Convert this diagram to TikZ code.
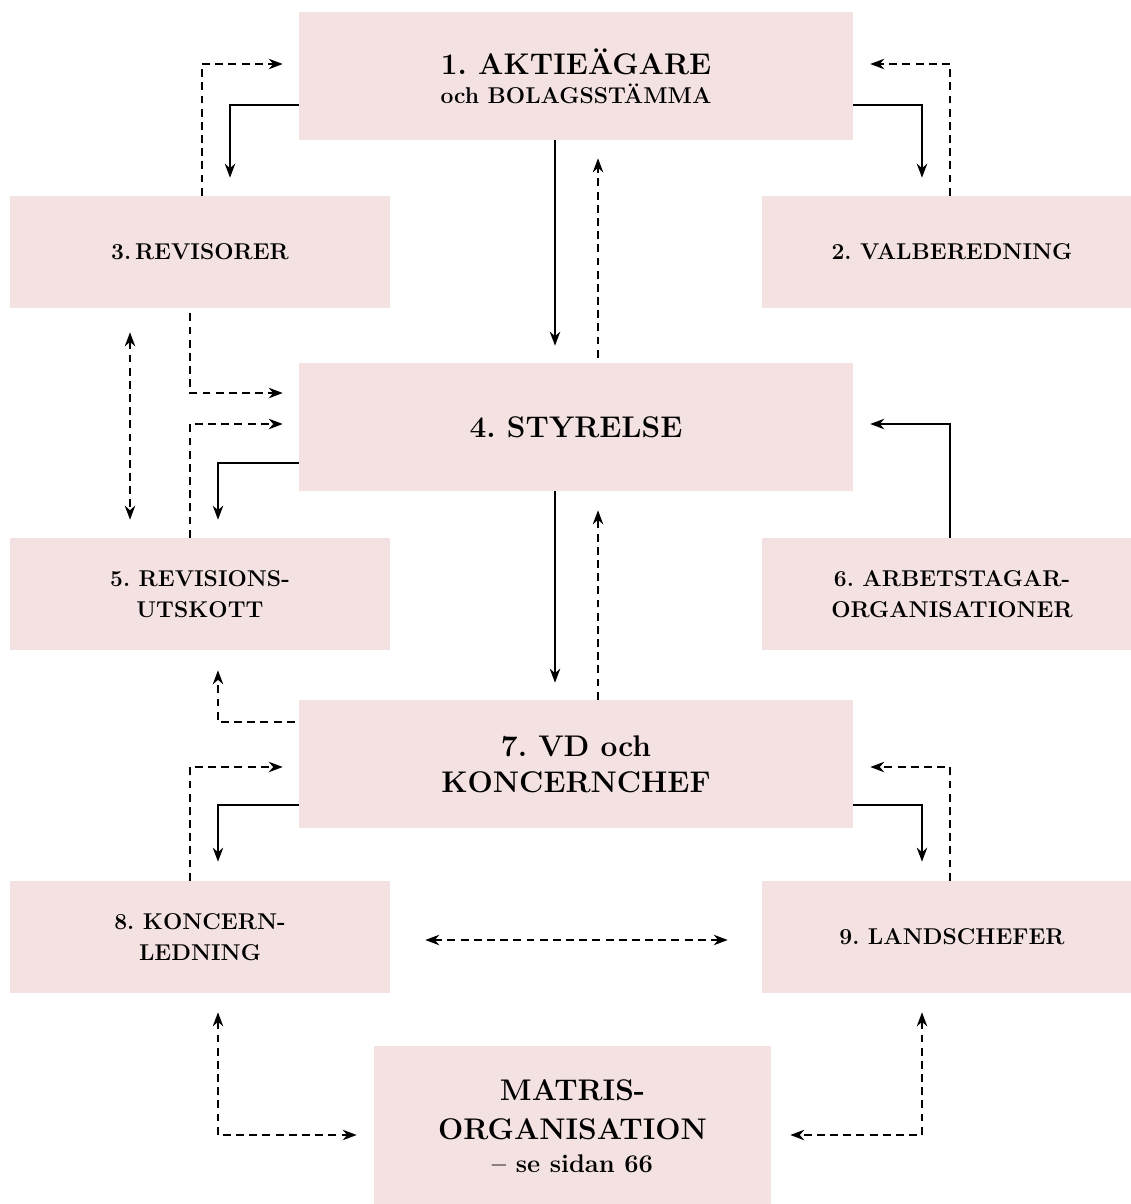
\documentclass[tikz,border=0pt]{standalone}
\usetikzlibrary{arrows.meta}

\definecolor{boxpink}{RGB}{244,225,225}

\tikzset{
  OrgBox/.style={fill=boxpink, inner sep=0pt, align=center},
  BigBox/.style={OrgBox, minimum width=11.08cm, minimum height=2.56cm, font=\bfseries\frenchspacing\fontsize{17}{20.5}\selectfont},
  SideBox/.style={OrgBox, minimum width=7.6cm, minimum height=2.24cm, font=\bfseries\frenchspacing\fontsize{13}{18}\selectfont},
  SolidLine/.style={line width=0.7pt, -{Stealth[length=8pt,width=6pt]}},
  DashLine/.style={SolidLine, dash pattern=on 4.5pt off 3pt},
  TwoWay/.style={DashLine, {Stealth[length=8pt,width=6pt]}-{Stealth[length=8pt,width=6pt]}},
}

\begin{document}
\begin{tikzpicture}[x=0.02cm, y=-0.02cm]

\useasboundingbox (0,0) rectangle (1131,1204);

\node[BigBox] (Org_1) at (576,76) {1. AKTIEÄGARE\\[-4pt]\fontsize{13}{16}\selectfont och BOLAGSSTÄMMA};
\node[SideBox] (Org_3) at (200,252) {3.\,REVISORER};
\node[SideBox] (Org_2) at (952,252) {2. VALBEREDNING};
\node[BigBox] (Org_4) at (576,427) {4. STYRELSE};
\node[SideBox] (Org_5) at (200,594) {5. REVISIONS-\\UTSKOTT};
\node[SideBox] (Org_6) at (952,594) {6. ARBETSTAGAR-\\ORGANISATIONER};
\node[BigBox] (Org_7) at (576,764) {7. VD och\\KONCERNCHEF};
\node[SideBox] (Org_8) at (200,937) {8. KONCERN-\\LEDNING};
\node[SideBox] (Org_9) at (952,937) {9. LANDSCHEFER};
\node[BigBox, minimum width=7.94cm, minimum height=3.2cm] (Org_M) at (572.5,1126) {MATRIS-\\[2pt]ORGANISATION\\[-2pt]\fontsize{14.5}{17}\selectfont -- se sidan 66};

\draw[SolidLine, shorten >=18*0.02cm] ([yshift=-0.58cm]Org_1.west) -| ([xshift=0.6cm]Org_3.north);
\draw[DashLine, shorten >=16*0.02cm] ([xshift=0.04cm]Org_3.north) |- ([yshift=0.24cm]Org_1.west);
\draw[SolidLine, shorten >=18*0.02cm] ([yshift=-0.58cm]Org_1.east) -| ([xshift=-0.6cm]Org_2.north);
\draw[DashLine, shorten >=17*0.02cm] ([xshift=-0.04cm]Org_2.north) |- ([yshift=0.24cm]Org_1.east);

\draw[SolidLine, shorten >=17*0.02cm] ([xshift=-0.42cm]Org_1.south) -- ([xshift=-0.42cm]Org_4.north);
\draw[DashLine, shorten <=5*0.02cm, shorten >=18*0.02cm] ([xshift=0.44cm]Org_4.north) -- ([xshift=0.44cm]Org_1.south);

\draw[DashLine, shorten <=5*0.02cm, shorten >=16*0.02cm] ([xshift=-0.2cm]Org_3.south) |- ([yshift=0.68cm]Org_4.west);
\draw[DashLine, shorten >=16*0.02cm] ([xshift=-0.2cm]Org_5.north) |- ([yshift=0.06cm]Org_4.west);
\draw[SolidLine, shorten >=18*0.02cm] ([yshift=-0.72cm]Org_4.west) -| ([xshift=0.36cm]Org_5.north);
\draw[TwoWay, shorten <=24*0.02cm, shorten >=18*0.02cm] ([xshift=-1.4cm]Org_3.south) -- ([xshift=-1.4cm]Org_5.north);
\draw[SolidLine, shorten >=17*0.02cm] ([xshift=-0.04cm]Org_6.north) |- ([yshift=0.06cm]Org_4.east);

\draw[SolidLine, shorten >=17*0.02cm] ([xshift=-0.42cm]Org_4.south) -- ([xshift=-0.42cm]Org_7.north);
\draw[DashLine, shorten >=19*0.02cm] ([xshift=0.44cm]Org_7.north) -- ([xshift=0.44cm]Org_4.south);
\draw[DashLine, shorten <=4*0.02cm, shorten >=20*0.02cm] ([yshift=0.84cm]Org_7.west) -| ([xshift=0.36cm]Org_5.south);

\draw[DashLine, shorten >=16*0.02cm] ([xshift=-0.2cm]Org_8.north) |- ([yshift=-0.06cm]Org_7.west);
\draw[SolidLine, shorten >=19*0.02cm] ([yshift=-0.82cm]Org_7.west) -| ([xshift=0.36cm]Org_8.north);
\draw[SolidLine, shorten >=19*0.02cm] ([yshift=-0.82cm]Org_7.east) -| ([xshift=-0.6cm]Org_9.north);
\draw[DashLine, shorten >=17*0.02cm] ([xshift=-0.04cm]Org_9.north) |- ([yshift=-0.06cm]Org_7.east);

\draw[TwoWay, shorten <=35*0.02cm, shorten >=34*0.02cm] ([yshift=-0.06cm]Org_8.east) -- ([yshift=-0.06cm]Org_9.west);
\draw[TwoWay, shorten <=19*0.02cm, shorten >=17*0.02cm] ([xshift=0.36cm]Org_8.south) |- ([yshift=-0.18cm]Org_M.west);
\draw[TwoWay, shorten <=19*0.02cm, shorten >=19*0.02cm] ([xshift=-0.6cm]Org_9.south) |- ([yshift=-0.18cm]Org_M.east);

\end{tikzpicture}
\end{document}
